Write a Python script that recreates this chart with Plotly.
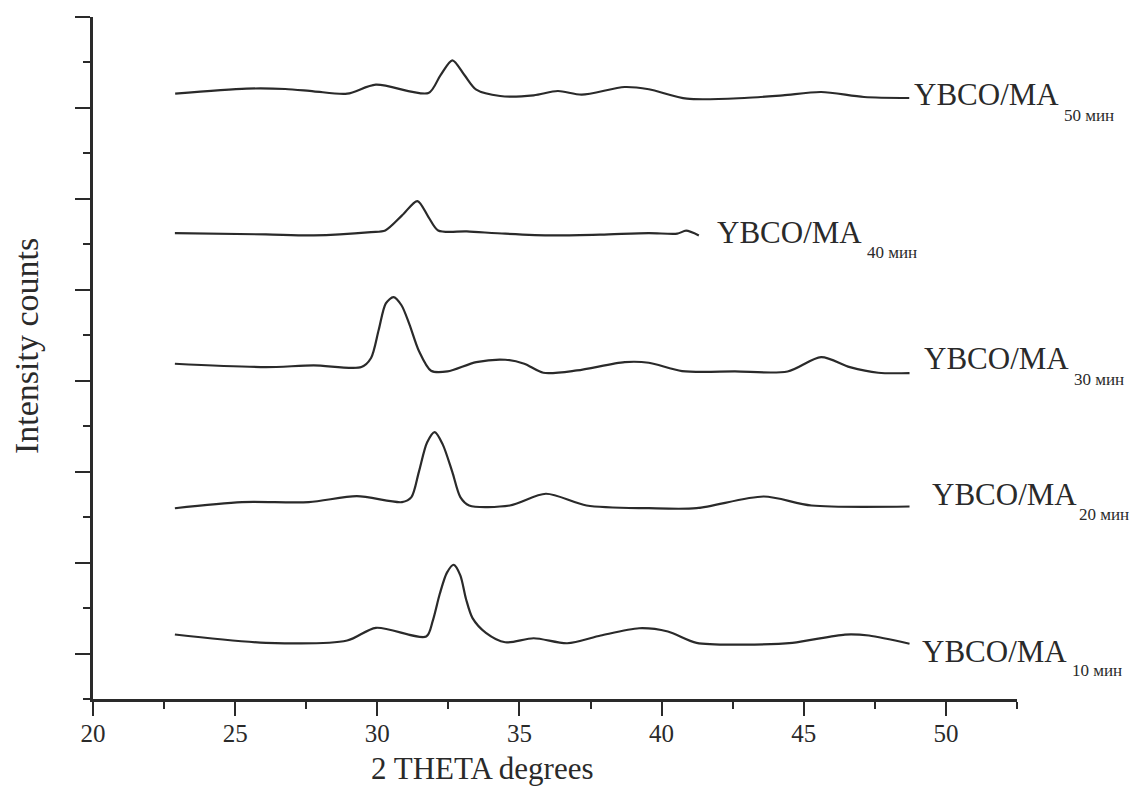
import plotly.graph_objects as go

# ---- data (2θ in degrees, intensity in stacked arbitrary units) ----
x50 = [22.89, 25.40, 26.76, 27.76, 28.94, 29.95, 31.80, 32.22, 32.64, 33.07, 33.48, 34.32,
       35.50, 36.35, 37.19, 38.70, 39.55, 40.89, 42.91, 44.26, 45.61, 47.12, 48.71]
y50 = [6.157, 6.212, 6.208, 6.183, 6.157, 6.256, 6.164, 6.359, 6.524, 6.359, 6.201, 6.131,
       6.139, 6.186, 6.146, 6.230, 6.205, 6.102, 6.109, 6.139, 6.175, 6.120, 6.109]

x40 = [22.88, 26.08, 27.76, 29.78, 30.28, 30.87, 31.41, 31.80, 32.14, 33.15, 34.50, 36.18,
       37.86, 39.55, 40.55, 40.86, 41.31]
y40 = [4.624, 4.609, 4.598, 4.635, 4.653, 4.818, 4.976, 4.800, 4.653, 4.642, 4.617, 4.598,
       4.606, 4.624, 4.617, 4.650, 4.598]

x30 = [22.88, 26.08, 27.76, 29.44, 29.78, 30.05, 30.30, 30.57, 30.85, 31.13, 31.46, 31.89,
       32.47, 33.48, 34.50, 35.17, 35.84, 37.02, 38.70, 39.55, 40.72, 42.58, 44.43, 45.61,
       46.62, 47.62, 48.72]
y30 = [3.187, 3.150, 3.168, 3.150, 3.250, 3.560, 3.850, 3.920, 3.830, 3.620, 3.330, 3.110,
       3.102, 3.205, 3.231, 3.187, 3.088, 3.113, 3.205, 3.198, 3.106, 3.102, 3.102, 3.260,
       3.150, 3.088, 3.084]

x20 = [22.88, 25.24, 27.59, 29.28, 30.87, 31.20, 31.46, 31.75, 32.02, 32.30, 32.64, 32.92,
       33.23, 34.66, 35.93, 37.36, 39.55, 41.23, 43.59, 45.27, 48.72]
y20 = [1.598, 1.665, 1.665, 1.730, 1.665, 1.720, 1.995, 2.320, 2.435, 2.300, 1.995, 1.720,
       1.628, 1.628, 1.757, 1.628, 1.598, 1.598, 1.727, 1.628, 1.617]

x10 = [22.88, 26.08, 28.94, 29.95, 31.72, 31.95, 32.20, 32.45, 32.69, 32.92, 33.12, 33.35,
       33.82, 34.50, 35.50, 36.68, 37.86, 39.21, 40.22, 41.23, 42.91, 44.60, 46.45, 47.29, 48.72]
y10 = [0.209, 0.118, 0.143, 0.283, 0.187, 0.360, 0.660, 0.890, 0.976, 0.860, 0.600, 0.390,
       0.228, 0.124, 0.168, 0.113, 0.198, 0.278, 0.242, 0.118, 0.099, 0.118, 0.209, 0.198, 0.107]

series_main = ["YBCO/MA"] * 5
series_sub = ["50 мин", "40 мин", "30 мин", "20 мин", "10 мин"]
x_ticks = [20, 25, 30, 35, 40, 45, 50]
X_RANGE = [20, 52.5]
Y_RANGE = [-0.5, 7.0]

# label placement (data coords; converted to paper so labels beyond the axis stay visible)
lab_main_x = [48.82, 41.89, 49.17, 49.45, 49.10]
lab_main_y = [6.15, 4.63, 3.245, 1.75, 0.022]
lab_sub_x = [54.10, 47.14, 54.45, 54.62, 54.38]
lab_sub_y = [5.92, 4.41, 3.01, 1.53, -0.19]

FONT = "Liberation Serif, Times New Roman, serif"
INK = "#2a2a2a"


def to_px(v):
    return (v - X_RANGE[0]) / (X_RANGE[1] - X_RANGE[0])


def to_py(v):
    return (v - Y_RANGE[0]) / (Y_RANGE[1] - Y_RANGE[0])


fig = go.Figure()
for xs, ys in [(x50, y50), (x40, y40), (x30, y30), (x20, y20), (x10, y10)]:
    fig.add_trace(go.Scatter(x=xs, y=ys, mode="lines",
                             line=dict(color=INK, width=2.2, shape="spline", smoothing=0.8),
                             showlegend=False, hoverinfo="skip"))

for i in range(5):
    fig.add_annotation(x=to_px(lab_main_x[i]), y=to_py(lab_main_y[i]), xref="paper", yref="paper",
                       text=series_main[i], showarrow=False, xanchor="left", yanchor="middle",
                       font=dict(family=FONT, size=31, color=INK))
    fig.add_annotation(x=to_px(lab_sub_x[i]), y=to_py(lab_sub_y[i]), xref="paper", yref="paper",
                       text=series_sub[i], showarrow=False, xanchor="left", yanchor="middle",
                       font=dict(family=FONT, size=17, color=INK))

fig.add_annotation(x=-0.0714, y=0.5176, xref="paper", yref="paper", text="Intensity counts",
                   textangle=-90, showarrow=False, xanchor="center", yanchor="middle",
                   font=dict(family=FONT, size=34, color=INK))
fig.add_annotation(x=0.421, y=-0.102, xref="paper", yref="paper", text="2 THETA degrees",
                   showarrow=False, xanchor="center", yanchor="middle",
                   font=dict(family=FONT, size=31, color=INK))

fig.update_xaxes(range=X_RANGE, tickvals=x_ticks, ticktext=[str(v) for v in x_ticks],
                 ticks="outside", ticklen=14, tickwidth=2, tickcolor=INK, ticklabelstandoff=-4,
                 minor=dict(ticks="outside", ticklen=7, tickwidth=2, tickcolor=INK,
                            tick0=22.5, dtick=5, showgrid=False),
                 showline=True, linecolor=INK, linewidth=2.5, showgrid=False, zeroline=False,
                 tickfont=dict(family=FONT, size=25, color=INK))
fig.update_yaxes(range=Y_RANGE, tick0=0, dtick=1, showticklabels=False,
                 ticks="outside", ticklen=15, tickwidth=2, tickcolor=INK,
                 minor=dict(ticks="outside", ticklen=7, tickwidth=2, tickcolor=INK,
                            tick0=0.5, dtick=1, showgrid=False),
                 showline=True, linecolor=INK, linewidth=2.5, showgrid=False, zeroline=False)

fig.update_layout(width=1138, height=787, paper_bgcolor="white", plot_bgcolor="white",
                  margin=dict(l=93, r=121, t=17, b=88))

fig.write_html("out.html", config={"displayModeBar": False},
               post_script="document.body.style.margin='0';")
